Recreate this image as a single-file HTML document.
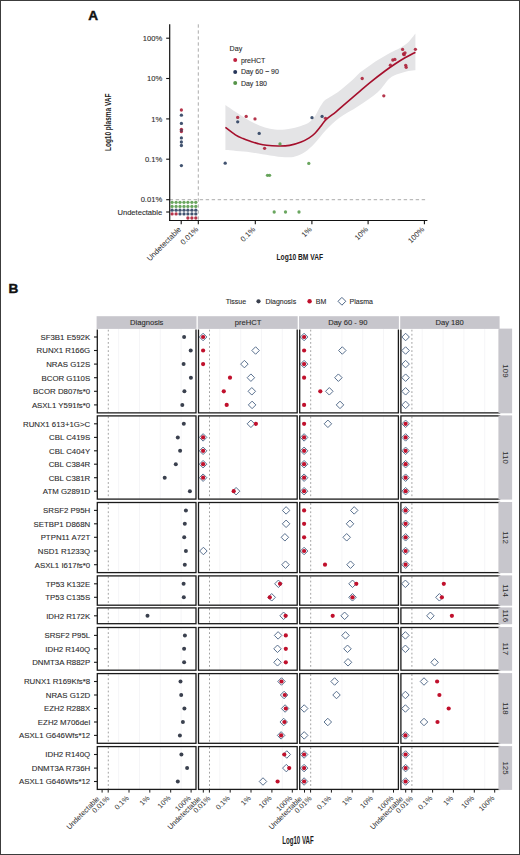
<!DOCTYPE html>
<html><head><meta charset="utf-8"><title>Figure</title>
<style>
html,body{margin:0;padding:0;background:#fff;}
body{width:520px;height:855px;overflow:hidden;}
svg{display:block;font-family:"Liberation Sans", sans-serif;}
</style></head><body>
<svg width="520" height="855" viewBox="0 0 520 855">
<rect x="0" y="0" width="520" height="855" fill="#fff"/>
<text x="88.3" y="20.2" font-size="13.6" font-weight="bold" fill="#111" stroke="#111" stroke-width="0.45">A</text>
<path d="M225.4 105C227 106.08 231.73 109.33 235 111.5C238.27 113.67 241.67 116 245 118C248.33 120 251.67 121.92 255 123.5C258.33 125.08 261.67 126.5 265 127.5C268.33 128.5 271.67 129.17 275 129.5C278.33 129.83 281.67 129.78 285 129.5C288.33 129.22 291.67 128.63 295 127.8C298.33 126.97 302.37 125.63 305 124.5C307.63 123.37 309.07 122.5 310.8 121C312.53 119.5 313.87 117.83 315.4 115.5C316.93 113.17 318.47 109.5 320 107C321.53 104.5 322.93 102.17 324.6 100.5C326.27 98.83 327.82 98.37 330 97C332.18 95.63 335.13 94.13 337.7 92.3C340.27 90.47 342.85 88.13 345.4 86C347.95 83.87 350.57 81.75 353 79.5C355.43 77.25 357.55 74.58 360 72.5C362.45 70.42 365.13 68.83 367.7 67C370.27 65.17 372.85 63.17 375.4 61.5C377.95 59.83 380.43 58.5 383 57C385.57 55.5 387.97 54 390.8 52.5C393.63 51 397.05 49.75 400 48C402.95 46.25 405.93 44.42 408.5 42C411.07 39.58 414.25 34.92 415.4 33.5L415.4 70.2C414.25 70.33 411.27 70.4 408.5 71C405.73 71.6 402.02 72.52 398.8 73.8C395.58 75.08 392.72 75.63 389.2 78.7C385.68 81.77 382.82 87.65 377.7 92.2C372.58 96.75 364.92 101.7 358.5 106C352.08 110.3 344.62 114 339.2 118C333.78 122 330.03 125.83 326 130C321.97 134.17 318.5 139.33 315 143C311.5 146.67 308.33 149.75 305 152C301.67 154.25 298.33 155.62 295 156.5C291.67 157.38 289.17 157.47 285 157.3C280.83 157.13 275.83 156.33 270 155.5C264.17 154.67 257.43 153.2 250 152.3C242.57 151.4 229.5 150.47 225.4 150.1Z" fill="#e4e4e6" stroke="none"/>
<line x1="198.3" y1="24.3" x2="198.3" y2="220.5" stroke="#a3a3a3" stroke-width="0.9" stroke-dasharray="3.4 2.6"/>
<line x1="169.7" y1="199.7" x2="427.2" y2="199.7" stroke="#a3a3a3" stroke-width="0.9" stroke-dasharray="3.4 2.6"/>
<path d="M225.4 127.4C227.07 128.65 232.47 133.03 235.4 134.9C238.33 136.77 240.43 137.52 243 138.6C245.57 139.68 248.3 140.57 250.8 141.4C253.3 142.23 255.38 142.95 258 143.6C260.62 144.25 263.17 144.9 266.5 145.3C269.83 145.7 274.15 145.98 278 146C281.85 146.02 285.75 146.07 289.6 145.4C293.45 144.73 297.83 143.25 301.1 142C304.37 140.75 306.88 139.37 309.2 137.9C311.52 136.43 313.07 135.13 315 133.2C316.93 131.27 318.97 128.57 320.8 126.3C322.63 124.03 323.47 122.02 326 119.6C328.53 117.18 332.67 114.53 336 111.8C339.33 109.07 342 106.63 346 103.2C350 99.77 356 94.63 360 91.2C364 87.77 365.83 85.97 370 82.6C374.17 79.23 380.83 74.1 385 71C389.17 67.9 391.67 66.2 395 64C398.33 61.8 401.6 59.77 405 57.8C408.4 55.83 413.67 53.13 415.4 52.2" fill="none" stroke="#a50f2c" stroke-width="1.6"/>
<line x1="169.7" y1="24.3" x2="169.7" y2="221.1" stroke="#111" stroke-width="1.2" />
<line x1="169.1" y1="220.5" x2="427.4" y2="220.5" stroke="#111" stroke-width="1.2" />
<line x1="166.2" y1="38.2" x2="169.7" y2="38.2" stroke="#111" stroke-width="1.1" />
<text x="162.2" y="40.9" font-size="7.6" text-anchor="end" fill="#2b2b2b" font-weight="normal" stroke="#2b2b2b" stroke-width="0.1" >100%</text>
<line x1="166.2" y1="78.5" x2="169.7" y2="78.5" stroke="#111" stroke-width="1.1" />
<text x="162.2" y="81.2" font-size="7.6" text-anchor="end" fill="#2b2b2b" font-weight="normal" stroke="#2b2b2b" stroke-width="0.1" >10%</text>
<line x1="166.2" y1="118.9" x2="169.7" y2="118.9" stroke="#111" stroke-width="1.1" />
<text x="162.2" y="121.6" font-size="7.6" text-anchor="end" fill="#2b2b2b" font-weight="normal" stroke="#2b2b2b" stroke-width="0.1" >1%</text>
<line x1="166.2" y1="159.2" x2="169.7" y2="159.2" stroke="#111" stroke-width="1.1" />
<text x="162.2" y="161.9" font-size="7.6" text-anchor="end" fill="#2b2b2b" font-weight="normal" stroke="#2b2b2b" stroke-width="0.1" >0.1%</text>
<line x1="166.2" y1="199.7" x2="169.7" y2="199.7" stroke="#111" stroke-width="1.1" />
<text x="162.2" y="202.4" font-size="7.6" text-anchor="end" fill="#2b2b2b" font-weight="normal" stroke="#2b2b2b" stroke-width="0.1" >0.01%</text>
<line x1="166.2" y1="212" x2="169.7" y2="212" stroke="#111" stroke-width="1.1" />
<text x="162.2" y="214.7" font-size="7.6" text-anchor="end" fill="#2b2b2b" font-weight="normal" stroke="#2b2b2b" stroke-width="0.1" >Undetectable</text>
<line x1="181.2" y1="220.5" x2="181.2" y2="224.3" stroke="#111" stroke-width="1.1" />
<text x="181.6" y="229.9" font-size="7.6" text-anchor="end" fill="#2b2b2b" transform="rotate(-45 181.6 229.9)">Undetectable</text>
<line x1="198.3" y1="220.5" x2="198.3" y2="224.3" stroke="#111" stroke-width="1.1" />
<text x="198.7" y="229.9" font-size="7.6" text-anchor="end" fill="#2b2b2b" transform="rotate(-45 198.7 229.9)">0.01%</text>
<line x1="255.3" y1="220.5" x2="255.3" y2="224.3" stroke="#111" stroke-width="1.1" />
<text x="255.7" y="229.9" font-size="7.6" text-anchor="end" fill="#2b2b2b" transform="rotate(-45 255.7 229.9)">0.1%</text>
<line x1="311.9" y1="220.5" x2="311.9" y2="224.3" stroke="#111" stroke-width="1.1" />
<text x="312.3" y="229.9" font-size="7.6" text-anchor="end" fill="#2b2b2b" transform="rotate(-45 312.3 229.9)">1%</text>
<line x1="368.1" y1="220.5" x2="368.1" y2="224.3" stroke="#111" stroke-width="1.1" />
<text x="368.5" y="229.9" font-size="7.6" text-anchor="end" fill="#2b2b2b" transform="rotate(-45 368.5 229.9)">10%</text>
<line x1="424.4" y1="220.5" x2="424.4" y2="224.3" stroke="#111" stroke-width="1.1" />
<text x="424.8" y="229.9" font-size="7.6" text-anchor="end" fill="#2b2b2b" transform="rotate(-45 424.8 229.9)">100%</text>
<text x="0" y="0" font-size="9.8" font-weight="bold" text-anchor="middle" fill="#1a1a1a" transform="translate(299.8 259.9) scale(0.68 1)">Log10 BM VAF</text>
<text x="0" y="0" font-size="9.8" font-weight="bold" text-anchor="middle" fill="#1a1a1a" transform="translate(111.2 122.3) rotate(-90) scale(0.66 1)">Log10 plasma VAF</text>
<circle cx="172.1" cy="202.3" r="1.65" fill="#5a9c4e" fill-opacity="0.9"/>
<circle cx="176.1" cy="202.3" r="1.65" fill="#5a9c4e" fill-opacity="0.9"/>
<circle cx="180" cy="202.3" r="1.65" fill="#5a9c4e" fill-opacity="0.9"/>
<circle cx="184" cy="202.3" r="1.65" fill="#5a9c4e" fill-opacity="0.9"/>
<circle cx="187.9" cy="202.3" r="1.65" fill="#5a9c4e" fill-opacity="0.9"/>
<circle cx="191.9" cy="202.3" r="1.65" fill="#5a9c4e" fill-opacity="0.9"/>
<circle cx="195.8" cy="202.3" r="1.65" fill="#5a9c4e" fill-opacity="0.9"/>
<circle cx="172.1" cy="206.4" r="1.65" fill="#5a9c4e" fill-opacity="0.9"/>
<circle cx="176.1" cy="206.4" r="1.65" fill="#5a9c4e" fill-opacity="0.9"/>
<circle cx="180" cy="206.4" r="1.65" fill="#5a9c4e" fill-opacity="0.9"/>
<circle cx="184" cy="206.4" r="1.65" fill="#5a9c4e" fill-opacity="0.9"/>
<circle cx="187.9" cy="206.4" r="1.65" fill="#5a9c4e" fill-opacity="0.9"/>
<circle cx="191.9" cy="206.4" r="1.65" fill="#5a9c4e" fill-opacity="0.9"/>
<circle cx="195.8" cy="206.4" r="1.65" fill="#5a9c4e" fill-opacity="0.9"/>
<circle cx="172.1" cy="210.2" r="1.65" fill="#2c4060" fill-opacity="0.9"/>
<circle cx="176.1" cy="210.2" r="1.65" fill="#2c4060" fill-opacity="0.9"/>
<circle cx="180" cy="210.2" r="1.65" fill="#2c4060" fill-opacity="0.9"/>
<circle cx="184" cy="210.2" r="1.65" fill="#2c4060" fill-opacity="0.9"/>
<circle cx="187.9" cy="210.2" r="1.65" fill="#2c4060" fill-opacity="0.9"/>
<circle cx="191.9" cy="210.2" r="1.65" fill="#2c4060" fill-opacity="0.9"/>
<circle cx="195.8" cy="210.2" r="1.65" fill="#2c4060" fill-opacity="0.9"/>
<circle cx="172.1" cy="213.9" r="1.65" fill="#ad2039" fill-opacity="0.9"/>
<circle cx="176.1" cy="213.9" r="1.65" fill="#ad2039" fill-opacity="0.9"/>
<circle cx="180" cy="213.9" r="1.65" fill="#2c4060" fill-opacity="0.9"/>
<circle cx="184" cy="213.9" r="1.65" fill="#2c4060" fill-opacity="0.9"/>
<circle cx="187.9" cy="213.9" r="1.65" fill="#2c4060" fill-opacity="0.9"/>
<circle cx="191.9" cy="213.9" r="1.65" fill="#2c4060" fill-opacity="0.9"/>
<circle cx="195.8" cy="213.9" r="1.65" fill="#2c4060" fill-opacity="0.9"/>
<circle cx="187.9" cy="218" r="1.65" fill="#ad2039" fill-opacity="0.9"/>
<circle cx="191.9" cy="218" r="1.65" fill="#ad2039" fill-opacity="0.9"/>
<circle cx="195.8" cy="218" r="1.65" fill="#ad2039" fill-opacity="0.9"/>
<circle cx="181.4" cy="110" r="1.65" fill="#ad2039" fill-opacity="0.9"/>
<circle cx="181.4" cy="115.2" r="1.65" fill="#2c4060" fill-opacity="0.9"/>
<circle cx="181.4" cy="123.4" r="1.65" fill="#2c4060" fill-opacity="0.9"/>
<circle cx="181.4" cy="129.3" r="1.65" fill="#ad2039" fill-opacity="0.9"/>
<circle cx="181.4" cy="131.5" r="1.65" fill="#ad2039" fill-opacity="0.9"/>
<circle cx="181.4" cy="137.9" r="1.65" fill="#2c4060" fill-opacity="0.9"/>
<circle cx="181.4" cy="142" r="1.65" fill="#2c4060" fill-opacity="0.9"/>
<circle cx="181.4" cy="145.5" r="1.65" fill="#2c4060" fill-opacity="0.9"/>
<circle cx="181.4" cy="165.6" r="1.65" fill="#2c4060" fill-opacity="0.9"/>
<circle cx="237.7" cy="117.4" r="1.65" fill="#ad2039" fill-opacity="0.9"/>
<circle cx="237.7" cy="121.8" r="1.65" fill="#2c4060" fill-opacity="0.9"/>
<circle cx="246.2" cy="116.4" r="1.65" fill="#ad2039" fill-opacity="0.9"/>
<circle cx="255" cy="118.9" r="1.65" fill="#ad2039" fill-opacity="0.9"/>
<circle cx="259.2" cy="133.4" r="1.65" fill="#2c4060" fill-opacity="0.9"/>
<circle cx="264.6" cy="148.3" r="1.65" fill="#ad2039" fill-opacity="0.9"/>
<circle cx="280" cy="143.9" r="1.65" fill="#5a9c4e" fill-opacity="0.9"/>
<circle cx="225.2" cy="163.2" r="1.65" fill="#2c4060" fill-opacity="0.9"/>
<circle cx="308.8" cy="163.4" r="1.65" fill="#5a9c4e" fill-opacity="0.9"/>
<circle cx="267.5" cy="175.3" r="1.65" fill="#5a9c4e" fill-opacity="0.9"/>
<circle cx="269.6" cy="175.3" r="1.65" fill="#5a9c4e" fill-opacity="0.9"/>
<circle cx="274.2" cy="212" r="1.65" fill="#5a9c4e" fill-opacity="0.9"/>
<circle cx="285.5" cy="212" r="1.65" fill="#5a9c4e" fill-opacity="0.9"/>
<circle cx="299" cy="212" r="1.65" fill="#5a9c4e" fill-opacity="0.9"/>
<circle cx="312" cy="117.7" r="1.65" fill="#2c4060" fill-opacity="0.9"/>
<circle cx="322.1" cy="116.4" r="1.65" fill="#2c4060" fill-opacity="0.9"/>
<circle cx="325.5" cy="118.3" r="1.65" fill="#ad2039" fill-opacity="0.9"/>
<circle cx="362.2" cy="78.5" r="1.65" fill="#ad2039" fill-opacity="0.9"/>
<circle cx="383.8" cy="95.8" r="1.65" fill="#ad2039" fill-opacity="0.9"/>
<circle cx="390.4" cy="65.2" r="1.65" fill="#ad2039" fill-opacity="0.9"/>
<circle cx="392.8" cy="60" r="1.65" fill="#ad2039" fill-opacity="0.9"/>
<circle cx="394.9" cy="59.4" r="1.65" fill="#ad2039" fill-opacity="0.9"/>
<circle cx="402.6" cy="49.4" r="1.65" fill="#ad2039" fill-opacity="0.9"/>
<circle cx="403.5" cy="54" r="1.65" fill="#ad2039" fill-opacity="0.9"/>
<circle cx="405" cy="52.8" r="1.65" fill="#ad2039" fill-opacity="0.9"/>
<circle cx="404.2" cy="54.7" r="1.65" fill="#ad2039" fill-opacity="0.9"/>
<circle cx="405.7" cy="65.3" r="1.65" fill="#ad2039" fill-opacity="0.9"/>
<circle cx="406.2" cy="67.3" r="1.65" fill="#ad2039" fill-opacity="0.9"/>
<circle cx="415.4" cy="49.3" r="1.65" fill="#ad2039" fill-opacity="0.9"/>
<circle cx="181.4" cy="130.4" r="1.65" fill="#2c4060" fill-opacity="0.5"/>
<text x="229.6" y="51" font-size="7.1" text-anchor="start" fill="#2b2b2b" font-weight="normal" stroke="#2b2b2b" stroke-width="0.1" >Day</text>
<circle cx="235.2" cy="60" r="2.0" fill="#bf213f" />
<text x="240.9" y="62.5" font-size="7.0" text-anchor="start" fill="#2b2b2b" font-weight="normal" stroke="#2b2b2b" stroke-width="0.1" >preHCT</text>
<circle cx="235.2" cy="71.9" r="2.0" fill="#26365a" />
<text x="240.9" y="74.4" font-size="7.0" text-anchor="start" fill="#2b2b2b" font-weight="normal" stroke="#2b2b2b" stroke-width="0.1" >Day 60 − 90</text>
<circle cx="235.2" cy="83.1" r="2.0" fill="#559449" />
<text x="240.9" y="85.6" font-size="7.0" text-anchor="start" fill="#2b2b2b" font-weight="normal" stroke="#2b2b2b" stroke-width="0.1" >Day 180</text>
<text x="8.6" y="293.3" font-size="13.6" font-weight="bold" fill="#111" stroke="#111" stroke-width="0.45">B</text>
<text x="225.8" y="303.7" font-size="7.0" text-anchor="start" fill="#2b2b2b" font-weight="normal" stroke="#2b2b2b" stroke-width="0.1" >Tissue</text>
<circle cx="258.5" cy="301.3" r="2.1" fill="#3a404e" />
<text x="265.4" y="303.8" font-size="7.0" text-anchor="start" fill="#2b2b2b" font-weight="normal" stroke="#2b2b2b" stroke-width="0.1" >Diagnosis</text>
<circle cx="309.6" cy="301.3" r="2.2" fill="#c0102c" />
<text x="315.8" y="303.8" font-size="7.0" text-anchor="start" fill="#2b2b2b" font-weight="normal" stroke="#2b2b2b" stroke-width="0.1" >BM</text>
<path d="M341.9 297.4L345.8 301.3L341.9 305.2L338 301.3Z" fill="none" stroke="#506888" stroke-width="1.0"/>
<text x="349.6" y="303.8" font-size="7.0" text-anchor="start" fill="#2b2b2b" font-weight="normal" stroke="#2b2b2b" stroke-width="0.1" >Plasma</text>
<rect x="96.6" y="316.2" width="99.9" height="12.7" fill="#c7c6cc"/>
<rect x="197.8" y="316.2" width="99.9" height="12.7" fill="#c7c6cc"/>
<rect x="299" y="316.2" width="99.9" height="12.7" fill="#c7c6cc"/>
<rect x="400.2" y="316.2" width="99.4" height="12.7" fill="#c7c6cc"/>
<text x="146.75" y="325.3" font-size="7.6" text-anchor="middle" fill="#2b2b2b" font-weight="normal" stroke="#2b2b2b" stroke-width="0.1" >Diagnosis</text>
<text x="248.1" y="325.3" font-size="7.6" text-anchor="middle" fill="#2b2b2b" font-weight="normal" stroke="#2b2b2b" stroke-width="0.1" >preHCT</text>
<text x="347.8" y="325.3" font-size="7.6" text-anchor="middle" fill="#2b2b2b" font-weight="normal" stroke="#2b2b2b" stroke-width="0.1" >Day 60 - 90</text>
<text x="449.6" y="325.3" font-size="7.6" text-anchor="middle" fill="#2b2b2b" font-weight="normal" stroke="#2b2b2b" stroke-width="0.1" >Day 180</text>
<rect x="97.3" y="329.1" width="98.7" height="83.7" fill="#fff"/>
<line x1="118.6" y1="329.1" x2="118.6" y2="412.8" stroke="#f1f1f3" stroke-width="0.7" />
<line x1="139.5" y1="329.1" x2="139.5" y2="412.8" stroke="#f1f1f3" stroke-width="0.7" />
<line x1="160.3" y1="329.1" x2="160.3" y2="412.8" stroke="#f1f1f3" stroke-width="0.7" />
<line x1="181.1" y1="329.1" x2="181.1" y2="412.8" stroke="#f1f1f3" stroke-width="0.7" />
<line x1="108.3" y1="329.7" x2="108.3" y2="412.2" stroke="#8a8a8a" stroke-width="0.8" stroke-dasharray="1.8 2.3"/>
<rect x="198.5" y="329.1" width="98.7" height="83.7" fill="#fff"/>
<line x1="219.8" y1="329.1" x2="219.8" y2="412.8" stroke="#f1f1f3" stroke-width="0.7" />
<line x1="240.7" y1="329.1" x2="240.7" y2="412.8" stroke="#f1f1f3" stroke-width="0.7" />
<line x1="261.5" y1="329.1" x2="261.5" y2="412.8" stroke="#f1f1f3" stroke-width="0.7" />
<line x1="282.3" y1="329.1" x2="282.3" y2="412.8" stroke="#f1f1f3" stroke-width="0.7" />
<line x1="209.5" y1="329.7" x2="209.5" y2="412.2" stroke="#8a8a8a" stroke-width="0.8" stroke-dasharray="1.8 2.3"/>
<rect x="299.7" y="329.1" width="98.7" height="83.7" fill="#fff"/>
<line x1="321" y1="329.1" x2="321" y2="412.8" stroke="#f1f1f3" stroke-width="0.7" />
<line x1="341.9" y1="329.1" x2="341.9" y2="412.8" stroke="#f1f1f3" stroke-width="0.7" />
<line x1="362.7" y1="329.1" x2="362.7" y2="412.8" stroke="#f1f1f3" stroke-width="0.7" />
<line x1="383.5" y1="329.1" x2="383.5" y2="412.8" stroke="#f1f1f3" stroke-width="0.7" />
<line x1="310.7" y1="329.7" x2="310.7" y2="412.2" stroke="#8a8a8a" stroke-width="0.8" stroke-dasharray="1.8 2.3"/>
<rect x="400.9" y="329.1" width="98.7" height="83.7" fill="#fff"/>
<line x1="422.2" y1="329.1" x2="422.2" y2="412.8" stroke="#f1f1f3" stroke-width="0.7" />
<line x1="443.1" y1="329.1" x2="443.1" y2="412.8" stroke="#f1f1f3" stroke-width="0.7" />
<line x1="463.9" y1="329.1" x2="463.9" y2="412.8" stroke="#f1f1f3" stroke-width="0.7" />
<line x1="484.7" y1="329.1" x2="484.7" y2="412.8" stroke="#f1f1f3" stroke-width="0.7" />
<line x1="411.9" y1="329.7" x2="411.9" y2="412.2" stroke="#8a8a8a" stroke-width="0.8" stroke-dasharray="1.8 2.3"/>
<circle cx="184.1" cy="337" r="2.0" fill="#3a404e" />
<circle cx="190.7" cy="350.5" r="2.0" fill="#3a404e" />
<circle cx="183.6" cy="364.1" r="2.0" fill="#3a404e" />
<circle cx="190.9" cy="377.7" r="2.0" fill="#3a404e" />
<circle cx="184.4" cy="391.3" r="2.0" fill="#3a404e" />
<circle cx="182.3" cy="404.9" r="2.0" fill="#3a404e" />
<path d="M203.1 333.25L206.85 337L203.1 340.75L199.35 337Z" fill="none" stroke="#506888" stroke-width="0.95"/>
<path d="M255.6 346.75L259.35 350.5L255.6 354.25L251.85 350.5Z" fill="none" stroke="#506888" stroke-width="0.95"/>
<path d="M244.4 360.35L248.15 364.1L244.4 367.85L240.65 364.1Z" fill="none" stroke="#506888" stroke-width="0.95"/>
<path d="M250.9 373.95L254.65 377.7L250.9 381.45L247.15 377.7Z" fill="none" stroke="#506888" stroke-width="0.95"/>
<path d="M251.8 387.55L255.55 391.3L251.8 395.05L248.05 391.3Z" fill="none" stroke="#506888" stroke-width="0.95"/>
<path d="M252.1 401.15L255.85 404.9L252.1 408.65L248.35 404.9Z" fill="none" stroke="#506888" stroke-width="0.95"/>
<circle cx="203.1" cy="337" r="2.1" fill="#c0102c" />
<circle cx="203.1" cy="350.5" r="2.1" fill="#c0102c" />
<circle cx="203.1" cy="364.1" r="2.1" fill="#c0102c" />
<circle cx="230" cy="377.7" r="2.1" fill="#c0102c" />
<circle cx="223.8" cy="391.3" r="2.1" fill="#c0102c" />
<circle cx="226.7" cy="404.9" r="2.1" fill="#c0102c" />
<path d="M304.1 333.25L307.85 337L304.1 340.75L300.35 337Z" fill="none" stroke="#506888" stroke-width="0.95"/>
<path d="M342.3 346.75L346.05 350.5L342.3 354.25L338.55 350.5Z" fill="none" stroke="#506888" stroke-width="0.95"/>
<path d="M304.1 360.35L307.85 364.1L304.1 367.85L300.35 364.1Z" fill="none" stroke="#506888" stroke-width="0.95"/>
<path d="M338.4 373.95L342.15 377.7L338.4 381.45L334.65 377.7Z" fill="none" stroke="#506888" stroke-width="0.95"/>
<path d="M329.3 387.55L333.05 391.3L329.3 395.05L325.55 391.3Z" fill="none" stroke="#506888" stroke-width="0.95"/>
<path d="M340 401.15L343.75 404.9L340 408.65L336.25 404.9Z" fill="none" stroke="#506888" stroke-width="0.95"/>
<circle cx="304.1" cy="337" r="2.1" fill="#c0102c" />
<circle cx="304.1" cy="350.5" r="2.1" fill="#c0102c" />
<circle cx="304.1" cy="364.1" r="2.1" fill="#c0102c" />
<circle cx="304.1" cy="377.7" r="2.1" fill="#c0102c" />
<circle cx="320.3" cy="391.3" r="2.1" fill="#c0102c" />
<circle cx="304.1" cy="404.9" r="2.1" fill="#c0102c" />
<path d="M405.6 333.25L409.35 337L405.6 340.75L401.85 337Z" fill="none" stroke="#506888" stroke-width="0.95"/>
<path d="M405.6 346.75L409.35 350.5L405.6 354.25L401.85 350.5Z" fill="none" stroke="#506888" stroke-width="0.95"/>
<path d="M405.6 360.35L409.35 364.1L405.6 367.85L401.85 364.1Z" fill="none" stroke="#506888" stroke-width="0.95"/>
<path d="M405.6 373.95L409.35 377.7L405.6 381.45L401.85 377.7Z" fill="none" stroke="#506888" stroke-width="0.95"/>
<path d="M405.6 387.55L409.35 391.3L405.6 395.05L401.85 391.3Z" fill="none" stroke="#506888" stroke-width="0.95"/>
<path d="M405.6 401.15L409.35 404.9L405.6 408.65L401.85 404.9Z" fill="none" stroke="#506888" stroke-width="0.95"/>
<path d="M97.3 329.6V412.8H196V329.6" fill="none" stroke="#1a1a1a" stroke-width="1.3"/>
<path d="M198.5 329.6V412.8H297.2V329.6" fill="none" stroke="#1a1a1a" stroke-width="1.3"/>
<path d="M299.7 329.6V412.8H398.4V329.6" fill="none" stroke="#1a1a1a" stroke-width="1.3"/>
<path d="M400.9 329.6V412.8H499.6V329.6" fill="none" stroke="#1a1a1a" stroke-width="1.3"/>
<line x1="94" y1="337" x2="97.3" y2="337" stroke="#1a1a1a" stroke-width="1.1" />
<text x="90.2" y="339.8" font-size="7.85" text-anchor="end" fill="#2b2b2b" font-weight="normal" stroke="#2b2b2b" stroke-width="0.1" >SF3B1 E592K</text>
<line x1="94" y1="350.5" x2="97.3" y2="350.5" stroke="#1a1a1a" stroke-width="1.1" />
<text x="90.2" y="353.3" font-size="7.85" text-anchor="end" fill="#2b2b2b" font-weight="normal" stroke="#2b2b2b" stroke-width="0.1" >RUNX1 R166G</text>
<line x1="94" y1="364.1" x2="97.3" y2="364.1" stroke="#1a1a1a" stroke-width="1.1" />
<text x="90.2" y="366.9" font-size="7.85" text-anchor="end" fill="#2b2b2b" font-weight="normal" stroke="#2b2b2b" stroke-width="0.1" >NRAS G12S</text>
<line x1="94" y1="377.7" x2="97.3" y2="377.7" stroke="#1a1a1a" stroke-width="1.1" />
<text x="90.2" y="380.5" font-size="7.85" text-anchor="end" fill="#2b2b2b" font-weight="normal" stroke="#2b2b2b" stroke-width="0.1" >BCOR G110S</text>
<line x1="94" y1="391.3" x2="97.3" y2="391.3" stroke="#1a1a1a" stroke-width="1.1" />
<text x="90.2" y="394.1" font-size="7.85" text-anchor="end" fill="#2b2b2b" font-weight="normal" stroke="#2b2b2b" stroke-width="0.1" >BCOR D807fs*0</text>
<line x1="94" y1="404.9" x2="97.3" y2="404.9" stroke="#1a1a1a" stroke-width="1.1" />
<text x="90.2" y="407.7" font-size="7.85" text-anchor="end" fill="#2b2b2b" font-weight="normal" stroke="#2b2b2b" stroke-width="0.1" >ASXL1 Y591fs*0</text>
<rect x="498.5" y="328.6" width="13.6" height="84.7" fill="#c7c6cc"/>
<text x="0" y="0" font-size="7.9" text-anchor="middle" fill="#2b2b2b" transform="translate(502.7 370.95) rotate(90)">109</text>
<rect x="97.3" y="415.9" width="98.7" height="83.2" fill="#fff"/>
<line x1="118.6" y1="415.9" x2="118.6" y2="499.1" stroke="#f1f1f3" stroke-width="0.7" />
<line x1="139.5" y1="415.9" x2="139.5" y2="499.1" stroke="#f1f1f3" stroke-width="0.7" />
<line x1="160.3" y1="415.9" x2="160.3" y2="499.1" stroke="#f1f1f3" stroke-width="0.7" />
<line x1="181.1" y1="415.9" x2="181.1" y2="499.1" stroke="#f1f1f3" stroke-width="0.7" />
<line x1="108.3" y1="416.5" x2="108.3" y2="498.5" stroke="#8a8a8a" stroke-width="0.8" stroke-dasharray="1.8 2.3"/>
<rect x="198.5" y="415.9" width="98.7" height="83.2" fill="#fff"/>
<line x1="219.8" y1="415.9" x2="219.8" y2="499.1" stroke="#f1f1f3" stroke-width="0.7" />
<line x1="240.7" y1="415.9" x2="240.7" y2="499.1" stroke="#f1f1f3" stroke-width="0.7" />
<line x1="261.5" y1="415.9" x2="261.5" y2="499.1" stroke="#f1f1f3" stroke-width="0.7" />
<line x1="282.3" y1="415.9" x2="282.3" y2="499.1" stroke="#f1f1f3" stroke-width="0.7" />
<line x1="209.5" y1="416.5" x2="209.5" y2="498.5" stroke="#8a8a8a" stroke-width="0.8" stroke-dasharray="1.8 2.3"/>
<rect x="299.7" y="415.9" width="98.7" height="83.2" fill="#fff"/>
<line x1="321" y1="415.9" x2="321" y2="499.1" stroke="#f1f1f3" stroke-width="0.7" />
<line x1="341.9" y1="415.9" x2="341.9" y2="499.1" stroke="#f1f1f3" stroke-width="0.7" />
<line x1="362.7" y1="415.9" x2="362.7" y2="499.1" stroke="#f1f1f3" stroke-width="0.7" />
<line x1="383.5" y1="415.9" x2="383.5" y2="499.1" stroke="#f1f1f3" stroke-width="0.7" />
<line x1="310.7" y1="416.5" x2="310.7" y2="498.5" stroke="#8a8a8a" stroke-width="0.8" stroke-dasharray="1.8 2.3"/>
<rect x="400.9" y="415.9" width="98.7" height="83.2" fill="#fff"/>
<line x1="422.2" y1="415.9" x2="422.2" y2="499.1" stroke="#f1f1f3" stroke-width="0.7" />
<line x1="443.1" y1="415.9" x2="443.1" y2="499.1" stroke="#f1f1f3" stroke-width="0.7" />
<line x1="463.9" y1="415.9" x2="463.9" y2="499.1" stroke="#f1f1f3" stroke-width="0.7" />
<line x1="484.7" y1="415.9" x2="484.7" y2="499.1" stroke="#f1f1f3" stroke-width="0.7" />
<line x1="411.9" y1="416.5" x2="411.9" y2="498.5" stroke="#8a8a8a" stroke-width="0.8" stroke-dasharray="1.8 2.3"/>
<circle cx="183.8" cy="423.8" r="2.0" fill="#3a404e" />
<circle cx="177.8" cy="437.4" r="2.0" fill="#3a404e" />
<circle cx="180.1" cy="450.8" r="2.0" fill="#3a404e" />
<circle cx="175.8" cy="464.2" r="2.0" fill="#3a404e" />
<circle cx="164.7" cy="477.7" r="2.0" fill="#3a404e" />
<circle cx="189.9" cy="491.2" r="2.0" fill="#3a404e" />
<path d="M250.9 420.05L254.65 423.8L250.9 427.55L247.15 423.8Z" fill="none" stroke="#506888" stroke-width="0.95"/>
<path d="M203.1 433.65L206.85 437.4L203.1 441.15L199.35 437.4Z" fill="none" stroke="#506888" stroke-width="0.95"/>
<path d="M203.1 447.05L206.85 450.8L203.1 454.55L199.35 450.8Z" fill="none" stroke="#506888" stroke-width="0.95"/>
<path d="M203.1 460.45L206.85 464.2L203.1 467.95L199.35 464.2Z" fill="none" stroke="#506888" stroke-width="0.95"/>
<path d="M203.1 473.95L206.85 477.7L203.1 481.45L199.35 477.7Z" fill="none" stroke="#506888" stroke-width="0.95"/>
<path d="M236.1 487.45L239.85 491.2L236.1 494.95L232.35 491.2Z" fill="none" stroke="#506888" stroke-width="0.95"/>
<circle cx="255.9" cy="423.8" r="2.1" fill="#c0102c" />
<circle cx="203.1" cy="437.4" r="2.1" fill="#c0102c" />
<circle cx="203.1" cy="450.8" r="2.1" fill="#c0102c" />
<circle cx="203.1" cy="464.2" r="2.1" fill="#c0102c" />
<circle cx="203.1" cy="477.7" r="2.1" fill="#c0102c" />
<circle cx="233.7" cy="491.2" r="2.1" fill="#c0102c" />
<path d="M327.9 420.05L331.65 423.8L327.9 427.55L324.15 423.8Z" fill="none" stroke="#506888" stroke-width="0.95"/>
<path d="M304.1 433.65L307.85 437.4L304.1 441.15L300.35 437.4Z" fill="none" stroke="#506888" stroke-width="0.95"/>
<path d="M304.1 447.05L307.85 450.8L304.1 454.55L300.35 450.8Z" fill="none" stroke="#506888" stroke-width="0.95"/>
<path d="M304.1 460.45L307.85 464.2L304.1 467.95L300.35 464.2Z" fill="none" stroke="#506888" stroke-width="0.95"/>
<path d="M304.1 473.95L307.85 477.7L304.1 481.45L300.35 477.7Z" fill="none" stroke="#506888" stroke-width="0.95"/>
<path d="M304.1 487.45L307.85 491.2L304.1 494.95L300.35 491.2Z" fill="none" stroke="#506888" stroke-width="0.95"/>
<circle cx="304.1" cy="423.8" r="2.1" fill="#c0102c" />
<circle cx="304.1" cy="437.4" r="2.1" fill="#c0102c" />
<circle cx="304.1" cy="450.8" r="2.1" fill="#c0102c" />
<circle cx="304.1" cy="464.2" r="2.1" fill="#c0102c" />
<circle cx="304.1" cy="477.7" r="2.1" fill="#c0102c" />
<circle cx="304.1" cy="491.2" r="2.1" fill="#c0102c" />
<path d="M405.6 420.05L409.35 423.8L405.6 427.55L401.85 423.8Z" fill="none" stroke="#506888" stroke-width="0.95"/>
<path d="M405.6 433.65L409.35 437.4L405.6 441.15L401.85 437.4Z" fill="none" stroke="#506888" stroke-width="0.95"/>
<path d="M405.6 447.05L409.35 450.8L405.6 454.55L401.85 450.8Z" fill="none" stroke="#506888" stroke-width="0.95"/>
<path d="M405.6 460.45L409.35 464.2L405.6 467.95L401.85 464.2Z" fill="none" stroke="#506888" stroke-width="0.95"/>
<path d="M405.6 473.95L409.35 477.7L405.6 481.45L401.85 477.7Z" fill="none" stroke="#506888" stroke-width="0.95"/>
<path d="M405.6 487.45L409.35 491.2L405.6 494.95L401.85 491.2Z" fill="none" stroke="#506888" stroke-width="0.95"/>
<circle cx="405.6" cy="423.8" r="2.1" fill="#c0102c" />
<circle cx="405.6" cy="437.4" r="2.1" fill="#c0102c" />
<circle cx="405.6" cy="450.8" r="2.1" fill="#c0102c" />
<circle cx="405.6" cy="464.2" r="2.1" fill="#c0102c" />
<circle cx="405.6" cy="477.7" r="2.1" fill="#c0102c" />
<circle cx="405.6" cy="491.2" r="2.1" fill="#c0102c" />
<rect x="97.3" y="415.9" width="98.7" height="83.2" fill="none" stroke="#1a1a1a" stroke-width="1.3"/>
<rect x="198.5" y="415.9" width="98.7" height="83.2" fill="none" stroke="#1a1a1a" stroke-width="1.3"/>
<rect x="299.7" y="415.9" width="98.7" height="83.2" fill="none" stroke="#1a1a1a" stroke-width="1.3"/>
<rect x="400.9" y="415.9" width="98.7" height="83.2" fill="none" stroke="#1a1a1a" stroke-width="1.3"/>
<line x1="94" y1="423.8" x2="97.3" y2="423.8" stroke="#1a1a1a" stroke-width="1.1" />
<text x="90.2" y="426.6" font-size="7.85" text-anchor="end" fill="#2b2b2b" font-weight="normal" stroke="#2b2b2b" stroke-width="0.1" >RUNX1 613+1G&gt;C</text>
<line x1="94" y1="437.4" x2="97.3" y2="437.4" stroke="#1a1a1a" stroke-width="1.1" />
<text x="90.2" y="440.2" font-size="7.85" text-anchor="end" fill="#2b2b2b" font-weight="normal" stroke="#2b2b2b" stroke-width="0.1" >CBL C419S</text>
<line x1="94" y1="450.8" x2="97.3" y2="450.8" stroke="#1a1a1a" stroke-width="1.1" />
<text x="90.2" y="453.6" font-size="7.85" text-anchor="end" fill="#2b2b2b" font-weight="normal" stroke="#2b2b2b" stroke-width="0.1" >CBL C404Y</text>
<line x1="94" y1="464.2" x2="97.3" y2="464.2" stroke="#1a1a1a" stroke-width="1.1" />
<text x="90.2" y="467" font-size="7.85" text-anchor="end" fill="#2b2b2b" font-weight="normal" stroke="#2b2b2b" stroke-width="0.1" >CBL C384R</text>
<line x1="94" y1="477.7" x2="97.3" y2="477.7" stroke="#1a1a1a" stroke-width="1.1" />
<text x="90.2" y="480.5" font-size="7.85" text-anchor="end" fill="#2b2b2b" font-weight="normal" stroke="#2b2b2b" stroke-width="0.1" >CBL C381R</text>
<line x1="94" y1="491.2" x2="97.3" y2="491.2" stroke="#1a1a1a" stroke-width="1.1" />
<text x="90.2" y="494" font-size="7.85" text-anchor="end" fill="#2b2b2b" font-weight="normal" stroke="#2b2b2b" stroke-width="0.1" >ATM G2891D</text>
<rect x="498.5" y="415.4" width="13.6" height="84.2" fill="#c7c6cc"/>
<text x="0" y="0" font-size="7.9" text-anchor="middle" fill="#2b2b2b" transform="translate(502.7 457.5) rotate(90)">110</text>
<rect x="97.3" y="502.5" width="98.7" height="70.1" fill="#fff"/>
<line x1="118.6" y1="502.5" x2="118.6" y2="572.6" stroke="#f1f1f3" stroke-width="0.7" />
<line x1="139.5" y1="502.5" x2="139.5" y2="572.6" stroke="#f1f1f3" stroke-width="0.7" />
<line x1="160.3" y1="502.5" x2="160.3" y2="572.6" stroke="#f1f1f3" stroke-width="0.7" />
<line x1="181.1" y1="502.5" x2="181.1" y2="572.6" stroke="#f1f1f3" stroke-width="0.7" />
<line x1="108.3" y1="503.1" x2="108.3" y2="572" stroke="#8a8a8a" stroke-width="0.8" stroke-dasharray="1.8 2.3"/>
<rect x="198.5" y="502.5" width="98.7" height="70.1" fill="#fff"/>
<line x1="219.8" y1="502.5" x2="219.8" y2="572.6" stroke="#f1f1f3" stroke-width="0.7" />
<line x1="240.7" y1="502.5" x2="240.7" y2="572.6" stroke="#f1f1f3" stroke-width="0.7" />
<line x1="261.5" y1="502.5" x2="261.5" y2="572.6" stroke="#f1f1f3" stroke-width="0.7" />
<line x1="282.3" y1="502.5" x2="282.3" y2="572.6" stroke="#f1f1f3" stroke-width="0.7" />
<line x1="209.5" y1="503.1" x2="209.5" y2="572" stroke="#8a8a8a" stroke-width="0.8" stroke-dasharray="1.8 2.3"/>
<rect x="299.7" y="502.5" width="98.7" height="70.1" fill="#fff"/>
<line x1="321" y1="502.5" x2="321" y2="572.6" stroke="#f1f1f3" stroke-width="0.7" />
<line x1="341.9" y1="502.5" x2="341.9" y2="572.6" stroke="#f1f1f3" stroke-width="0.7" />
<line x1="362.7" y1="502.5" x2="362.7" y2="572.6" stroke="#f1f1f3" stroke-width="0.7" />
<line x1="383.5" y1="502.5" x2="383.5" y2="572.6" stroke="#f1f1f3" stroke-width="0.7" />
<line x1="310.7" y1="503.1" x2="310.7" y2="572" stroke="#8a8a8a" stroke-width="0.8" stroke-dasharray="1.8 2.3"/>
<rect x="400.9" y="502.5" width="98.7" height="70.1" fill="#fff"/>
<line x1="422.2" y1="502.5" x2="422.2" y2="572.6" stroke="#f1f1f3" stroke-width="0.7" />
<line x1="443.1" y1="502.5" x2="443.1" y2="572.6" stroke="#f1f1f3" stroke-width="0.7" />
<line x1="463.9" y1="502.5" x2="463.9" y2="572.6" stroke="#f1f1f3" stroke-width="0.7" />
<line x1="484.7" y1="502.5" x2="484.7" y2="572.6" stroke="#f1f1f3" stroke-width="0.7" />
<line x1="411.9" y1="503.1" x2="411.9" y2="572" stroke="#8a8a8a" stroke-width="0.8" stroke-dasharray="1.8 2.3"/>
<circle cx="185.9" cy="510.4" r="2.0" fill="#3a404e" />
<circle cx="184.8" cy="523.8" r="2.0" fill="#3a404e" />
<circle cx="184.2" cy="537.3" r="2.0" fill="#3a404e" />
<circle cx="185.9" cy="551" r="2.0" fill="#3a404e" />
<circle cx="184.8" cy="564.7" r="2.0" fill="#3a404e" />
<path d="M286.1 506.65L289.85 510.4L286.1 514.15L282.35 510.4Z" fill="none" stroke="#506888" stroke-width="0.95"/>
<path d="M286.1 520.05L289.85 523.8L286.1 527.55L282.35 523.8Z" fill="none" stroke="#506888" stroke-width="0.95"/>
<path d="M284.9 533.55L288.65 537.3L284.9 541.05L281.15 537.3Z" fill="none" stroke="#506888" stroke-width="0.95"/>
<path d="M203.4 547.25L207.15 551L203.4 554.75L199.65 551Z" fill="none" stroke="#506888" stroke-width="0.95"/>
<path d="M285.5 560.95L289.25 564.7L285.5 568.45L281.75 564.7Z" fill="none" stroke="#506888" stroke-width="0.95"/>
<path d="M354.2 506.65L357.95 510.4L354.2 514.15L350.45 510.4Z" fill="none" stroke="#506888" stroke-width="0.95"/>
<path d="M350 520.05L353.75 523.8L350 527.55L346.25 523.8Z" fill="none" stroke="#506888" stroke-width="0.95"/>
<path d="M346.7 533.55L350.45 537.3L346.7 541.05L342.95 537.3Z" fill="none" stroke="#506888" stroke-width="0.95"/>
<path d="M304.1 547.25L307.85 551L304.1 554.75L300.35 551Z" fill="none" stroke="#506888" stroke-width="0.95"/>
<path d="M350.5 560.95L354.25 564.7L350.5 568.45L346.75 564.7Z" fill="none" stroke="#506888" stroke-width="0.95"/>
<circle cx="304.1" cy="510.4" r="2.1" fill="#c0102c" />
<circle cx="304.1" cy="523.8" r="2.1" fill="#c0102c" />
<circle cx="304.1" cy="537.3" r="2.1" fill="#c0102c" />
<circle cx="304.1" cy="551" r="2.1" fill="#c0102c" />
<circle cx="325" cy="564.7" r="2.1" fill="#c0102c" />
<path d="M405.6 506.65L409.35 510.4L405.6 514.15L401.85 510.4Z" fill="none" stroke="#506888" stroke-width="0.95"/>
<path d="M405.6 520.05L409.35 523.8L405.6 527.55L401.85 523.8Z" fill="none" stroke="#506888" stroke-width="0.95"/>
<path d="M405.6 533.55L409.35 537.3L405.6 541.05L401.85 537.3Z" fill="none" stroke="#506888" stroke-width="0.95"/>
<path d="M405.6 547.25L409.35 551L405.6 554.75L401.85 551Z" fill="none" stroke="#506888" stroke-width="0.95"/>
<path d="M405.6 560.95L409.35 564.7L405.6 568.45L401.85 564.7Z" fill="none" stroke="#506888" stroke-width="0.95"/>
<circle cx="405.6" cy="510.4" r="2.1" fill="#c0102c" />
<circle cx="405.6" cy="523.8" r="2.1" fill="#c0102c" />
<circle cx="405.6" cy="537.3" r="2.1" fill="#c0102c" />
<circle cx="405.6" cy="551" r="2.1" fill="#c0102c" />
<circle cx="405.6" cy="564.7" r="2.1" fill="#c0102c" />
<rect x="97.3" y="502.5" width="98.7" height="70.1" fill="none" stroke="#1a1a1a" stroke-width="1.3"/>
<rect x="198.5" y="502.5" width="98.7" height="70.1" fill="none" stroke="#1a1a1a" stroke-width="1.3"/>
<rect x="299.7" y="502.5" width="98.7" height="70.1" fill="none" stroke="#1a1a1a" stroke-width="1.3"/>
<rect x="400.9" y="502.5" width="98.7" height="70.1" fill="none" stroke="#1a1a1a" stroke-width="1.3"/>
<line x1="94" y1="510.4" x2="97.3" y2="510.4" stroke="#1a1a1a" stroke-width="1.1" />
<text x="90.2" y="513.2" font-size="7.85" text-anchor="end" fill="#2b2b2b" font-weight="normal" stroke="#2b2b2b" stroke-width="0.1" >SRSF2 P95H</text>
<line x1="94" y1="523.8" x2="97.3" y2="523.8" stroke="#1a1a1a" stroke-width="1.1" />
<text x="90.2" y="526.6" font-size="7.85" text-anchor="end" fill="#2b2b2b" font-weight="normal" stroke="#2b2b2b" stroke-width="0.1" >SETBP1 D868N</text>
<line x1="94" y1="537.3" x2="97.3" y2="537.3" stroke="#1a1a1a" stroke-width="1.1" />
<text x="90.2" y="540.1" font-size="7.85" text-anchor="end" fill="#2b2b2b" font-weight="normal" stroke="#2b2b2b" stroke-width="0.1" >PTPN11 A72T</text>
<line x1="94" y1="551" x2="97.3" y2="551" stroke="#1a1a1a" stroke-width="1.1" />
<text x="90.2" y="553.8" font-size="7.85" text-anchor="end" fill="#2b2b2b" font-weight="normal" stroke="#2b2b2b" stroke-width="0.1" >NSD1 R1233Q</text>
<line x1="94" y1="564.7" x2="97.3" y2="564.7" stroke="#1a1a1a" stroke-width="1.1" />
<text x="90.2" y="567.5" font-size="7.85" text-anchor="end" fill="#2b2b2b" font-weight="normal" stroke="#2b2b2b" stroke-width="0.1" >ASXL1 I617fs*0</text>
<rect x="498.5" y="502" width="13.6" height="71.1" fill="#c7c6cc"/>
<text x="0" y="0" font-size="7.9" text-anchor="middle" fill="#2b2b2b" transform="translate(502.7 537.55) rotate(90)">112</text>
<rect x="97.3" y="575.9" width="98.7" height="29.3" fill="#fff"/>
<line x1="118.6" y1="575.9" x2="118.6" y2="605.2" stroke="#f1f1f3" stroke-width="0.7" />
<line x1="139.5" y1="575.9" x2="139.5" y2="605.2" stroke="#f1f1f3" stroke-width="0.7" />
<line x1="160.3" y1="575.9" x2="160.3" y2="605.2" stroke="#f1f1f3" stroke-width="0.7" />
<line x1="181.1" y1="575.9" x2="181.1" y2="605.2" stroke="#f1f1f3" stroke-width="0.7" />
<line x1="108.3" y1="576.5" x2="108.3" y2="604.6" stroke="#8a8a8a" stroke-width="0.8" stroke-dasharray="1.8 2.3"/>
<rect x="198.5" y="575.9" width="98.7" height="29.3" fill="#fff"/>
<line x1="219.8" y1="575.9" x2="219.8" y2="605.2" stroke="#f1f1f3" stroke-width="0.7" />
<line x1="240.7" y1="575.9" x2="240.7" y2="605.2" stroke="#f1f1f3" stroke-width="0.7" />
<line x1="261.5" y1="575.9" x2="261.5" y2="605.2" stroke="#f1f1f3" stroke-width="0.7" />
<line x1="282.3" y1="575.9" x2="282.3" y2="605.2" stroke="#f1f1f3" stroke-width="0.7" />
<line x1="209.5" y1="576.5" x2="209.5" y2="604.6" stroke="#8a8a8a" stroke-width="0.8" stroke-dasharray="1.8 2.3"/>
<rect x="299.7" y="575.9" width="98.7" height="29.3" fill="#fff"/>
<line x1="321" y1="575.9" x2="321" y2="605.2" stroke="#f1f1f3" stroke-width="0.7" />
<line x1="341.9" y1="575.9" x2="341.9" y2="605.2" stroke="#f1f1f3" stroke-width="0.7" />
<line x1="362.7" y1="575.9" x2="362.7" y2="605.2" stroke="#f1f1f3" stroke-width="0.7" />
<line x1="383.5" y1="575.9" x2="383.5" y2="605.2" stroke="#f1f1f3" stroke-width="0.7" />
<line x1="310.7" y1="576.5" x2="310.7" y2="604.6" stroke="#8a8a8a" stroke-width="0.8" stroke-dasharray="1.8 2.3"/>
<rect x="400.9" y="575.9" width="98.7" height="29.3" fill="#fff"/>
<line x1="422.2" y1="575.9" x2="422.2" y2="605.2" stroke="#f1f1f3" stroke-width="0.7" />
<line x1="443.1" y1="575.9" x2="443.1" y2="605.2" stroke="#f1f1f3" stroke-width="0.7" />
<line x1="463.9" y1="575.9" x2="463.9" y2="605.2" stroke="#f1f1f3" stroke-width="0.7" />
<line x1="484.7" y1="575.9" x2="484.7" y2="605.2" stroke="#f1f1f3" stroke-width="0.7" />
<line x1="411.9" y1="576.5" x2="411.9" y2="604.6" stroke="#8a8a8a" stroke-width="0.8" stroke-dasharray="1.8 2.3"/>
<circle cx="183.6" cy="583.8" r="2.0" fill="#3a404e" />
<circle cx="183.8" cy="597.3" r="2.0" fill="#3a404e" />
<path d="M278.4 580.05L282.15 583.8L278.4 587.55L274.65 583.8Z" fill="none" stroke="#506888" stroke-width="0.95"/>
<path d="M271.7 593.55L275.45 597.3L271.7 601.05L267.95 597.3Z" fill="none" stroke="#506888" stroke-width="0.95"/>
<circle cx="280" cy="583.8" r="2.1" fill="#c0102c" />
<circle cx="269.8" cy="597.3" r="2.1" fill="#c0102c" />
<path d="M352.5 580.05L356.25 583.8L352.5 587.55L348.75 583.8Z" fill="none" stroke="#506888" stroke-width="0.95"/>
<path d="M352.5 593.55L356.25 597.3L352.5 601.05L348.75 597.3Z" fill="none" stroke="#506888" stroke-width="0.95"/>
<circle cx="356.3" cy="583.8" r="2.1" fill="#c0102c" />
<circle cx="352.5" cy="597.3" r="2.1" fill="#c0102c" />
<path d="M405.4 580.05L409.15 583.8L405.4 587.55L401.65 583.8Z" fill="none" stroke="#506888" stroke-width="0.95"/>
<path d="M439.4 593.55L443.15 597.3L439.4 601.05L435.65 597.3Z" fill="none" stroke="#506888" stroke-width="0.95"/>
<circle cx="443.8" cy="583.8" r="2.1" fill="#c0102c" />
<circle cx="441.9" cy="597.3" r="2.1" fill="#c0102c" />
<rect x="97.3" y="575.9" width="98.7" height="29.3" fill="none" stroke="#1a1a1a" stroke-width="1.3"/>
<rect x="198.5" y="575.9" width="98.7" height="29.3" fill="none" stroke="#1a1a1a" stroke-width="1.3"/>
<rect x="299.7" y="575.9" width="98.7" height="29.3" fill="none" stroke="#1a1a1a" stroke-width="1.3"/>
<rect x="400.9" y="575.9" width="98.7" height="29.3" fill="none" stroke="#1a1a1a" stroke-width="1.3"/>
<line x1="94" y1="583.8" x2="97.3" y2="583.8" stroke="#1a1a1a" stroke-width="1.1" />
<text x="90.2" y="586.6" font-size="7.85" text-anchor="end" fill="#2b2b2b" font-weight="normal" stroke="#2b2b2b" stroke-width="0.1" >TP53 K132E</text>
<line x1="94" y1="597.3" x2="97.3" y2="597.3" stroke="#1a1a1a" stroke-width="1.1" />
<text x="90.2" y="600.1" font-size="7.85" text-anchor="end" fill="#2b2b2b" font-weight="normal" stroke="#2b2b2b" stroke-width="0.1" >TP53 C135S</text>
<rect x="498.5" y="575.4" width="13.6" height="30.3" fill="#c7c6cc"/>
<text x="0" y="0" font-size="7.9" text-anchor="middle" fill="#2b2b2b" transform="translate(502.7 590.55) rotate(90)">114</text>
<rect x="97.3" y="607.9" width="98.7" height="15.8" fill="#fff"/>
<line x1="118.6" y1="607.9" x2="118.6" y2="623.7" stroke="#f1f1f3" stroke-width="0.7" />
<line x1="139.5" y1="607.9" x2="139.5" y2="623.7" stroke="#f1f1f3" stroke-width="0.7" />
<line x1="160.3" y1="607.9" x2="160.3" y2="623.7" stroke="#f1f1f3" stroke-width="0.7" />
<line x1="181.1" y1="607.9" x2="181.1" y2="623.7" stroke="#f1f1f3" stroke-width="0.7" />
<line x1="108.3" y1="608.5" x2="108.3" y2="623.1" stroke="#8a8a8a" stroke-width="0.8" stroke-dasharray="1.8 2.3"/>
<rect x="198.5" y="607.9" width="98.7" height="15.8" fill="#fff"/>
<line x1="219.8" y1="607.9" x2="219.8" y2="623.7" stroke="#f1f1f3" stroke-width="0.7" />
<line x1="240.7" y1="607.9" x2="240.7" y2="623.7" stroke="#f1f1f3" stroke-width="0.7" />
<line x1="261.5" y1="607.9" x2="261.5" y2="623.7" stroke="#f1f1f3" stroke-width="0.7" />
<line x1="282.3" y1="607.9" x2="282.3" y2="623.7" stroke="#f1f1f3" stroke-width="0.7" />
<line x1="209.5" y1="608.5" x2="209.5" y2="623.1" stroke="#8a8a8a" stroke-width="0.8" stroke-dasharray="1.8 2.3"/>
<rect x="299.7" y="607.9" width="98.7" height="15.8" fill="#fff"/>
<line x1="321" y1="607.9" x2="321" y2="623.7" stroke="#f1f1f3" stroke-width="0.7" />
<line x1="341.9" y1="607.9" x2="341.9" y2="623.7" stroke="#f1f1f3" stroke-width="0.7" />
<line x1="362.7" y1="607.9" x2="362.7" y2="623.7" stroke="#f1f1f3" stroke-width="0.7" />
<line x1="383.5" y1="607.9" x2="383.5" y2="623.7" stroke="#f1f1f3" stroke-width="0.7" />
<line x1="310.7" y1="608.5" x2="310.7" y2="623.1" stroke="#8a8a8a" stroke-width="0.8" stroke-dasharray="1.8 2.3"/>
<rect x="400.9" y="607.9" width="98.7" height="15.8" fill="#fff"/>
<line x1="422.2" y1="607.9" x2="422.2" y2="623.7" stroke="#f1f1f3" stroke-width="0.7" />
<line x1="443.1" y1="607.9" x2="443.1" y2="623.7" stroke="#f1f1f3" stroke-width="0.7" />
<line x1="463.9" y1="607.9" x2="463.9" y2="623.7" stroke="#f1f1f3" stroke-width="0.7" />
<line x1="484.7" y1="607.9" x2="484.7" y2="623.7" stroke="#f1f1f3" stroke-width="0.7" />
<line x1="411.9" y1="608.5" x2="411.9" y2="623.1" stroke="#8a8a8a" stroke-width="0.8" stroke-dasharray="1.8 2.3"/>
<circle cx="147.5" cy="615.8" r="2.0" fill="#3a404e" />
<path d="M283.6 612.05L287.35 615.8L283.6 619.55L279.85 615.8Z" fill="none" stroke="#506888" stroke-width="0.95"/>
<circle cx="285.6" cy="615.8" r="2.1" fill="#c0102c" />
<path d="M344.6 612.05L348.35 615.8L344.6 619.55L340.85 615.8Z" fill="none" stroke="#506888" stroke-width="0.95"/>
<circle cx="332.7" cy="615.8" r="2.1" fill="#c0102c" />
<path d="M430.4 612.05L434.15 615.8L430.4 619.55L426.65 615.8Z" fill="none" stroke="#506888" stroke-width="0.95"/>
<circle cx="451.9" cy="615.8" r="2.1" fill="#c0102c" />
<rect x="97.3" y="607.9" width="98.7" height="15.8" fill="none" stroke="#1a1a1a" stroke-width="1.3"/>
<rect x="198.5" y="607.9" width="98.7" height="15.8" fill="none" stroke="#1a1a1a" stroke-width="1.3"/>
<rect x="299.7" y="607.9" width="98.7" height="15.8" fill="none" stroke="#1a1a1a" stroke-width="1.3"/>
<rect x="400.9" y="607.9" width="98.7" height="15.8" fill="none" stroke="#1a1a1a" stroke-width="1.3"/>
<line x1="94" y1="615.8" x2="97.3" y2="615.8" stroke="#1a1a1a" stroke-width="1.1" />
<text x="90.2" y="618.6" font-size="7.85" text-anchor="end" fill="#2b2b2b" font-weight="normal" stroke="#2b2b2b" stroke-width="0.1" >IDH2 R172K</text>
<rect x="498.5" y="607.4" width="13.6" height="16.8" fill="#c7c6cc"/>
<text x="0" y="0" font-size="7.9" text-anchor="middle" fill="#2b2b2b" transform="translate(502.7 615.8) rotate(90)">116</text>
<rect x="97.3" y="627.5" width="98.7" height="42.7" fill="#fff"/>
<line x1="118.6" y1="627.5" x2="118.6" y2="670.2" stroke="#f1f1f3" stroke-width="0.7" />
<line x1="139.5" y1="627.5" x2="139.5" y2="670.2" stroke="#f1f1f3" stroke-width="0.7" />
<line x1="160.3" y1="627.5" x2="160.3" y2="670.2" stroke="#f1f1f3" stroke-width="0.7" />
<line x1="181.1" y1="627.5" x2="181.1" y2="670.2" stroke="#f1f1f3" stroke-width="0.7" />
<line x1="108.3" y1="628.1" x2="108.3" y2="669.6" stroke="#8a8a8a" stroke-width="0.8" stroke-dasharray="1.8 2.3"/>
<rect x="198.5" y="627.5" width="98.7" height="42.7" fill="#fff"/>
<line x1="219.8" y1="627.5" x2="219.8" y2="670.2" stroke="#f1f1f3" stroke-width="0.7" />
<line x1="240.7" y1="627.5" x2="240.7" y2="670.2" stroke="#f1f1f3" stroke-width="0.7" />
<line x1="261.5" y1="627.5" x2="261.5" y2="670.2" stroke="#f1f1f3" stroke-width="0.7" />
<line x1="282.3" y1="627.5" x2="282.3" y2="670.2" stroke="#f1f1f3" stroke-width="0.7" />
<line x1="209.5" y1="628.1" x2="209.5" y2="669.6" stroke="#8a8a8a" stroke-width="0.8" stroke-dasharray="1.8 2.3"/>
<rect x="299.7" y="627.5" width="98.7" height="42.7" fill="#fff"/>
<line x1="321" y1="627.5" x2="321" y2="670.2" stroke="#f1f1f3" stroke-width="0.7" />
<line x1="341.9" y1="627.5" x2="341.9" y2="670.2" stroke="#f1f1f3" stroke-width="0.7" />
<line x1="362.7" y1="627.5" x2="362.7" y2="670.2" stroke="#f1f1f3" stroke-width="0.7" />
<line x1="383.5" y1="627.5" x2="383.5" y2="670.2" stroke="#f1f1f3" stroke-width="0.7" />
<line x1="310.7" y1="628.1" x2="310.7" y2="669.6" stroke="#8a8a8a" stroke-width="0.8" stroke-dasharray="1.8 2.3"/>
<rect x="400.9" y="627.5" width="98.7" height="42.7" fill="#fff"/>
<line x1="422.2" y1="627.5" x2="422.2" y2="670.2" stroke="#f1f1f3" stroke-width="0.7" />
<line x1="443.1" y1="627.5" x2="443.1" y2="670.2" stroke="#f1f1f3" stroke-width="0.7" />
<line x1="463.9" y1="627.5" x2="463.9" y2="670.2" stroke="#f1f1f3" stroke-width="0.7" />
<line x1="484.7" y1="627.5" x2="484.7" y2="670.2" stroke="#f1f1f3" stroke-width="0.7" />
<line x1="411.9" y1="628.1" x2="411.9" y2="669.6" stroke="#8a8a8a" stroke-width="0.8" stroke-dasharray="1.8 2.3"/>
<circle cx="184.9" cy="635.4" r="2.0" fill="#3a404e" />
<circle cx="184.1" cy="648.8" r="2.0" fill="#3a404e" />
<circle cx="184.1" cy="662.3" r="2.0" fill="#3a404e" />
<path d="M278.1 631.65L281.85 635.4L278.1 639.15L274.35 635.4Z" fill="none" stroke="#506888" stroke-width="0.95"/>
<path d="M277.5 645.05L281.25 648.8L277.5 652.55L273.75 648.8Z" fill="none" stroke="#506888" stroke-width="0.95"/>
<path d="M277.5 658.55L281.25 662.3L277.5 666.05L273.75 662.3Z" fill="none" stroke="#506888" stroke-width="0.95"/>
<circle cx="285.8" cy="635.4" r="2.1" fill="#c0102c" />
<circle cx="285.8" cy="648.8" r="2.1" fill="#c0102c" />
<circle cx="285.8" cy="662.3" r="2.1" fill="#c0102c" />
<path d="M345.5 631.65L349.25 635.4L345.5 639.15L341.75 635.4Z" fill="none" stroke="#506888" stroke-width="0.95"/>
<path d="M347.5 645.05L351.25 648.8L347.5 652.55L343.75 648.8Z" fill="none" stroke="#506888" stroke-width="0.95"/>
<path d="M348 658.55L351.75 662.3L348 666.05L344.25 662.3Z" fill="none" stroke="#506888" stroke-width="0.95"/>
<path d="M405.4 631.65L409.15 635.4L405.4 639.15L401.65 635.4Z" fill="none" stroke="#506888" stroke-width="0.95"/>
<path d="M405.4 645.05L409.15 648.8L405.4 652.55L401.65 648.8Z" fill="none" stroke="#506888" stroke-width="0.95"/>
<path d="M434.6 658.55L438.35 662.3L434.6 666.05L430.85 662.3Z" fill="none" stroke="#506888" stroke-width="0.95"/>
<rect x="97.3" y="627.5" width="98.7" height="42.7" fill="none" stroke="#1a1a1a" stroke-width="1.3"/>
<rect x="198.5" y="627.5" width="98.7" height="42.7" fill="none" stroke="#1a1a1a" stroke-width="1.3"/>
<rect x="299.7" y="627.5" width="98.7" height="42.7" fill="none" stroke="#1a1a1a" stroke-width="1.3"/>
<rect x="400.9" y="627.5" width="98.7" height="42.7" fill="none" stroke="#1a1a1a" stroke-width="1.3"/>
<line x1="94" y1="635.4" x2="97.3" y2="635.4" stroke="#1a1a1a" stroke-width="1.1" />
<text x="90.2" y="638.2" font-size="7.85" text-anchor="end" fill="#2b2b2b" font-weight="normal" stroke="#2b2b2b" stroke-width="0.1" >SRSF2 P95L</text>
<line x1="94" y1="648.8" x2="97.3" y2="648.8" stroke="#1a1a1a" stroke-width="1.1" />
<text x="90.2" y="651.6" font-size="7.85" text-anchor="end" fill="#2b2b2b" font-weight="normal" stroke="#2b2b2b" stroke-width="0.1" >IDH2 R140Q</text>
<line x1="94" y1="662.3" x2="97.3" y2="662.3" stroke="#1a1a1a" stroke-width="1.1" />
<text x="90.2" y="665.1" font-size="7.85" text-anchor="end" fill="#2b2b2b" font-weight="normal" stroke="#2b2b2b" stroke-width="0.1" >DNMT3A R882P</text>
<rect x="498.5" y="627" width="13.6" height="43.7" fill="#c7c6cc"/>
<text x="0" y="0" font-size="7.9" text-anchor="middle" fill="#2b2b2b" transform="translate(502.7 648.85) rotate(90)">117</text>
<rect x="97.3" y="673.6" width="98.7" height="69.7" fill="#fff"/>
<line x1="118.6" y1="673.6" x2="118.6" y2="743.3" stroke="#f1f1f3" stroke-width="0.7" />
<line x1="139.5" y1="673.6" x2="139.5" y2="743.3" stroke="#f1f1f3" stroke-width="0.7" />
<line x1="160.3" y1="673.6" x2="160.3" y2="743.3" stroke="#f1f1f3" stroke-width="0.7" />
<line x1="181.1" y1="673.6" x2="181.1" y2="743.3" stroke="#f1f1f3" stroke-width="0.7" />
<line x1="108.3" y1="674.2" x2="108.3" y2="742.7" stroke="#8a8a8a" stroke-width="0.8" stroke-dasharray="1.8 2.3"/>
<rect x="198.5" y="673.6" width="98.7" height="69.7" fill="#fff"/>
<line x1="219.8" y1="673.6" x2="219.8" y2="743.3" stroke="#f1f1f3" stroke-width="0.7" />
<line x1="240.7" y1="673.6" x2="240.7" y2="743.3" stroke="#f1f1f3" stroke-width="0.7" />
<line x1="261.5" y1="673.6" x2="261.5" y2="743.3" stroke="#f1f1f3" stroke-width="0.7" />
<line x1="282.3" y1="673.6" x2="282.3" y2="743.3" stroke="#f1f1f3" stroke-width="0.7" />
<line x1="209.5" y1="674.2" x2="209.5" y2="742.7" stroke="#8a8a8a" stroke-width="0.8" stroke-dasharray="1.8 2.3"/>
<rect x="299.7" y="673.6" width="98.7" height="69.7" fill="#fff"/>
<line x1="321" y1="673.6" x2="321" y2="743.3" stroke="#f1f1f3" stroke-width="0.7" />
<line x1="341.9" y1="673.6" x2="341.9" y2="743.3" stroke="#f1f1f3" stroke-width="0.7" />
<line x1="362.7" y1="673.6" x2="362.7" y2="743.3" stroke="#f1f1f3" stroke-width="0.7" />
<line x1="383.5" y1="673.6" x2="383.5" y2="743.3" stroke="#f1f1f3" stroke-width="0.7" />
<line x1="310.7" y1="674.2" x2="310.7" y2="742.7" stroke="#8a8a8a" stroke-width="0.8" stroke-dasharray="1.8 2.3"/>
<rect x="400.9" y="673.6" width="98.7" height="69.7" fill="#fff"/>
<line x1="422.2" y1="673.6" x2="422.2" y2="743.3" stroke="#f1f1f3" stroke-width="0.7" />
<line x1="443.1" y1="673.6" x2="443.1" y2="743.3" stroke="#f1f1f3" stroke-width="0.7" />
<line x1="463.9" y1="673.6" x2="463.9" y2="743.3" stroke="#f1f1f3" stroke-width="0.7" />
<line x1="484.7" y1="673.6" x2="484.7" y2="743.3" stroke="#f1f1f3" stroke-width="0.7" />
<line x1="411.9" y1="674.2" x2="411.9" y2="742.7" stroke="#8a8a8a" stroke-width="0.8" stroke-dasharray="1.8 2.3"/>
<circle cx="180.5" cy="681.5" r="2.0" fill="#3a404e" />
<circle cx="181.2" cy="695" r="2.0" fill="#3a404e" />
<circle cx="184.4" cy="708.5" r="2.0" fill="#3a404e" />
<circle cx="182.9" cy="722" r="2.0" fill="#3a404e" />
<circle cx="179.9" cy="735.4" r="2.0" fill="#3a404e" />
<path d="M281.5 677.75L285.25 681.5L281.5 685.25L277.75 681.5Z" fill="none" stroke="#506888" stroke-width="0.95"/>
<path d="M284.1 691.25L287.85 695L284.1 698.75L280.35 695Z" fill="none" stroke="#506888" stroke-width="0.95"/>
<path d="M285.1 704.75L288.85 708.5L285.1 712.25L281.35 708.5Z" fill="none" stroke="#506888" stroke-width="0.95"/>
<path d="M283.7 718.25L287.45 722L283.7 725.75L279.95 722Z" fill="none" stroke="#506888" stroke-width="0.95"/>
<path d="M281.1 731.65L284.85 735.4L281.1 739.15L277.35 735.4Z" fill="none" stroke="#506888" stroke-width="0.95"/>
<circle cx="281.5" cy="681.5" r="2.1" fill="#c0102c" />
<circle cx="284.8" cy="695" r="2.1" fill="#c0102c" />
<circle cx="285.8" cy="708.5" r="2.1" fill="#c0102c" />
<circle cx="284.4" cy="722" r="2.1" fill="#c0102c" />
<circle cx="281.1" cy="735.4" r="2.1" fill="#c0102c" />
<path d="M334.6 677.75L338.35 681.5L334.6 685.25L330.85 681.5Z" fill="none" stroke="#506888" stroke-width="0.95"/>
<path d="M336.5 691.25L340.25 695L336.5 698.75L332.75 695Z" fill="none" stroke="#506888" stroke-width="0.95"/>
<path d="M304.2 704.75L307.95 708.5L304.2 712.25L300.45 708.5Z" fill="none" stroke="#506888" stroke-width="0.95"/>
<path d="M327.8 718.25L331.55 722L327.8 725.75L324.05 722Z" fill="none" stroke="#506888" stroke-width="0.95"/>
<path d="M304.2 731.65L307.95 735.4L304.2 739.15L300.45 735.4Z" fill="none" stroke="#506888" stroke-width="0.95"/>
<path d="M424 677.75L427.75 681.5L424 685.25L420.25 681.5Z" fill="none" stroke="#506888" stroke-width="0.95"/>
<path d="M405.4 691.25L409.15 695L405.4 698.75L401.65 695Z" fill="none" stroke="#506888" stroke-width="0.95"/>
<path d="M405.4 704.75L409.15 708.5L405.4 712.25L401.65 708.5Z" fill="none" stroke="#506888" stroke-width="0.95"/>
<path d="M424 718.25L427.75 722L424 725.75L420.25 722Z" fill="none" stroke="#506888" stroke-width="0.95"/>
<path d="M405.4 731.65L409.15 735.4L405.4 739.15L401.65 735.4Z" fill="none" stroke="#506888" stroke-width="0.95"/>
<circle cx="437.1" cy="681.5" r="2.1" fill="#c0102c" />
<circle cx="439.4" cy="695" r="2.1" fill="#c0102c" />
<circle cx="448.7" cy="708.5" r="2.1" fill="#c0102c" />
<circle cx="437.5" cy="722" r="2.1" fill="#c0102c" />
<circle cx="405.4" cy="735.4" r="2.1" fill="#c0102c" />
<rect x="97.3" y="673.6" width="98.7" height="69.7" fill="none" stroke="#1a1a1a" stroke-width="1.3"/>
<rect x="198.5" y="673.6" width="98.7" height="69.7" fill="none" stroke="#1a1a1a" stroke-width="1.3"/>
<rect x="299.7" y="673.6" width="98.7" height="69.7" fill="none" stroke="#1a1a1a" stroke-width="1.3"/>
<rect x="400.9" y="673.6" width="98.7" height="69.7" fill="none" stroke="#1a1a1a" stroke-width="1.3"/>
<line x1="94" y1="681.5" x2="97.3" y2="681.5" stroke="#1a1a1a" stroke-width="1.1" />
<text x="90.2" y="684.3" font-size="7.85" text-anchor="end" fill="#2b2b2b" font-weight="normal" stroke="#2b2b2b" stroke-width="0.1" >RUNX1 R169Kfs*8</text>
<line x1="94" y1="695" x2="97.3" y2="695" stroke="#1a1a1a" stroke-width="1.1" />
<text x="90.2" y="697.8" font-size="7.85" text-anchor="end" fill="#2b2b2b" font-weight="normal" stroke="#2b2b2b" stroke-width="0.1" >NRAS G12D</text>
<line x1="94" y1="708.5" x2="97.3" y2="708.5" stroke="#1a1a1a" stroke-width="1.1" />
<text x="90.2" y="711.3" font-size="7.85" text-anchor="end" fill="#2b2b2b" font-weight="normal" stroke="#2b2b2b" stroke-width="0.1" >EZH2 R288X</text>
<line x1="94" y1="722" x2="97.3" y2="722" stroke="#1a1a1a" stroke-width="1.1" />
<text x="90.2" y="724.8" font-size="7.85" text-anchor="end" fill="#2b2b2b" font-weight="normal" stroke="#2b2b2b" stroke-width="0.1" >EZH2 M706del</text>
<line x1="94" y1="735.4" x2="97.3" y2="735.4" stroke="#1a1a1a" stroke-width="1.1" />
<text x="90.2" y="738.2" font-size="7.85" text-anchor="end" fill="#2b2b2b" font-weight="normal" stroke="#2b2b2b" stroke-width="0.1" >ASXL1 G646Wfs*12</text>
<rect x="498.5" y="673.1" width="13.6" height="70.7" fill="#c7c6cc"/>
<text x="0" y="0" font-size="7.9" text-anchor="middle" fill="#2b2b2b" transform="translate(502.7 708.45) rotate(90)">118</text>
<rect x="97.3" y="746.6" width="98.7" height="42.8" fill="#fff"/>
<line x1="118.6" y1="746.6" x2="118.6" y2="789.4" stroke="#f1f1f3" stroke-width="0.7" />
<line x1="139.5" y1="746.6" x2="139.5" y2="789.4" stroke="#f1f1f3" stroke-width="0.7" />
<line x1="160.3" y1="746.6" x2="160.3" y2="789.4" stroke="#f1f1f3" stroke-width="0.7" />
<line x1="181.1" y1="746.6" x2="181.1" y2="789.4" stroke="#f1f1f3" stroke-width="0.7" />
<line x1="108.3" y1="747.2" x2="108.3" y2="788.8" stroke="#8a8a8a" stroke-width="0.8" stroke-dasharray="1.8 2.3"/>
<rect x="198.5" y="746.6" width="98.7" height="42.8" fill="#fff"/>
<line x1="219.8" y1="746.6" x2="219.8" y2="789.4" stroke="#f1f1f3" stroke-width="0.7" />
<line x1="240.7" y1="746.6" x2="240.7" y2="789.4" stroke="#f1f1f3" stroke-width="0.7" />
<line x1="261.5" y1="746.6" x2="261.5" y2="789.4" stroke="#f1f1f3" stroke-width="0.7" />
<line x1="282.3" y1="746.6" x2="282.3" y2="789.4" stroke="#f1f1f3" stroke-width="0.7" />
<line x1="209.5" y1="747.2" x2="209.5" y2="788.8" stroke="#8a8a8a" stroke-width="0.8" stroke-dasharray="1.8 2.3"/>
<rect x="299.7" y="746.6" width="98.7" height="42.8" fill="#fff"/>
<line x1="321" y1="746.6" x2="321" y2="789.4" stroke="#f1f1f3" stroke-width="0.7" />
<line x1="341.9" y1="746.6" x2="341.9" y2="789.4" stroke="#f1f1f3" stroke-width="0.7" />
<line x1="362.7" y1="746.6" x2="362.7" y2="789.4" stroke="#f1f1f3" stroke-width="0.7" />
<line x1="383.5" y1="746.6" x2="383.5" y2="789.4" stroke="#f1f1f3" stroke-width="0.7" />
<line x1="310.7" y1="747.2" x2="310.7" y2="788.8" stroke="#8a8a8a" stroke-width="0.8" stroke-dasharray="1.8 2.3"/>
<rect x="400.9" y="746.6" width="98.7" height="42.8" fill="#fff"/>
<line x1="422.2" y1="746.6" x2="422.2" y2="789.4" stroke="#f1f1f3" stroke-width="0.7" />
<line x1="443.1" y1="746.6" x2="443.1" y2="789.4" stroke="#f1f1f3" stroke-width="0.7" />
<line x1="463.9" y1="746.6" x2="463.9" y2="789.4" stroke="#f1f1f3" stroke-width="0.7" />
<line x1="484.7" y1="746.6" x2="484.7" y2="789.4" stroke="#f1f1f3" stroke-width="0.7" />
<line x1="411.9" y1="747.2" x2="411.9" y2="788.8" stroke="#8a8a8a" stroke-width="0.8" stroke-dasharray="1.8 2.3"/>
<circle cx="181.4" cy="754.5" r="2.0" fill="#3a404e" />
<circle cx="187.1" cy="768.1" r="2.0" fill="#3a404e" />
<circle cx="177.8" cy="781.5" r="2.0" fill="#3a404e" />
<path d="M286.8 750.75L290.55 754.5L286.8 758.25L283.05 754.5Z" fill="none" stroke="#506888" stroke-width="0.95"/>
<path d="M286.3 764.35L290.05 768.1L286.3 771.85L282.55 768.1Z" fill="none" stroke="#506888" stroke-width="0.95"/>
<path d="M263 777.75L266.75 781.5L263 785.25L259.25 781.5Z" fill="none" stroke="#506888" stroke-width="0.95"/>
<circle cx="284.3" cy="754.5" r="2.1" fill="#c0102c" />
<circle cx="289.2" cy="768.1" r="2.1" fill="#c0102c" />
<circle cx="277.6" cy="781.5" r="2.1" fill="#c0102c" />
<path d="M304.1 750.75L307.85 754.5L304.1 758.25L300.35 754.5Z" fill="none" stroke="#506888" stroke-width="0.95"/>
<path d="M304.1 764.35L307.85 768.1L304.1 771.85L300.35 768.1Z" fill="none" stroke="#506888" stroke-width="0.95"/>
<path d="M304.1 777.75L307.85 781.5L304.1 785.25L300.35 781.5Z" fill="none" stroke="#506888" stroke-width="0.95"/>
<circle cx="304.1" cy="754.5" r="2.1" fill="#c0102c" />
<circle cx="304.1" cy="768.1" r="2.1" fill="#c0102c" />
<circle cx="304.1" cy="781.5" r="2.1" fill="#c0102c" />
<path d="M405.6 750.75L409.35 754.5L405.6 758.25L401.85 754.5Z" fill="none" stroke="#506888" stroke-width="0.95"/>
<path d="M405.6 764.35L409.35 768.1L405.6 771.85L401.85 768.1Z" fill="none" stroke="#506888" stroke-width="0.95"/>
<path d="M405.6 777.75L409.35 781.5L405.6 785.25L401.85 781.5Z" fill="none" stroke="#506888" stroke-width="0.95"/>
<circle cx="405.6" cy="754.5" r="2.1" fill="#c0102c" />
<circle cx="405.6" cy="768.1" r="2.1" fill="#c0102c" />
<circle cx="405.6" cy="781.5" r="2.1" fill="#c0102c" />
<rect x="97.3" y="746.6" width="98.7" height="42.8" fill="none" stroke="#1a1a1a" stroke-width="1.3"/>
<rect x="198.5" y="746.6" width="98.7" height="42.8" fill="none" stroke="#1a1a1a" stroke-width="1.3"/>
<rect x="299.7" y="746.6" width="98.7" height="42.8" fill="none" stroke="#1a1a1a" stroke-width="1.3"/>
<rect x="400.9" y="746.6" width="98.7" height="42.8" fill="none" stroke="#1a1a1a" stroke-width="1.3"/>
<line x1="94" y1="754.5" x2="97.3" y2="754.5" stroke="#1a1a1a" stroke-width="1.1" />
<text x="90.2" y="757.3" font-size="7.85" text-anchor="end" fill="#2b2b2b" font-weight="normal" stroke="#2b2b2b" stroke-width="0.1" >IDH2 R140Q</text>
<line x1="94" y1="768.1" x2="97.3" y2="768.1" stroke="#1a1a1a" stroke-width="1.1" />
<text x="90.2" y="770.9" font-size="7.85" text-anchor="end" fill="#2b2b2b" font-weight="normal" stroke="#2b2b2b" stroke-width="0.1" >DNMT3A R736H</text>
<line x1="94" y1="781.5" x2="97.3" y2="781.5" stroke="#1a1a1a" stroke-width="1.1" />
<text x="90.2" y="784.3" font-size="7.85" text-anchor="end" fill="#2b2b2b" font-weight="normal" stroke="#2b2b2b" stroke-width="0.1" >ASXL1 G646Wfs*12</text>
<rect x="498.5" y="746.1" width="13.6" height="43.8" fill="#c7c6cc"/>
<text x="0" y="0" font-size="7.9" text-anchor="middle" fill="#2b2b2b" transform="translate(502.7 768) rotate(90)">125</text>
<line x1="102.1" y1="789.6" x2="102.1" y2="792.6" stroke="#1a1a1a" stroke-width="1.0" />
<text x="100" y="799.3" font-size="7.35" text-anchor="end" fill="#2b2b2b" transform="rotate(-45 100 799.3)">Undetectable</text>
<line x1="108.2" y1="789.6" x2="108.2" y2="792.6" stroke="#1a1a1a" stroke-width="1.0" />
<text x="109.8" y="798.9" font-size="7.35" text-anchor="end" fill="#2b2b2b" transform="rotate(-45 109.8 798.9)">0.01%</text>
<line x1="129" y1="789.6" x2="129" y2="792.6" stroke="#1a1a1a" stroke-width="1.0" />
<text x="129.3" y="798.5" font-size="7.35" text-anchor="end" fill="#2b2b2b" transform="rotate(-45 129.3 798.5)">0.1%</text>
<line x1="149.8" y1="789.6" x2="149.8" y2="792.6" stroke="#1a1a1a" stroke-width="1.0" />
<text x="150.1" y="798.5" font-size="7.35" text-anchor="end" fill="#2b2b2b" transform="rotate(-45 150.1 798.5)">1%</text>
<line x1="170.7" y1="789.6" x2="170.7" y2="792.6" stroke="#1a1a1a" stroke-width="1.0" />
<text x="171" y="798.5" font-size="7.35" text-anchor="end" fill="#2b2b2b" transform="rotate(-45 171 798.5)">10%</text>
<line x1="191.1" y1="789.6" x2="191.1" y2="792.6" stroke="#1a1a1a" stroke-width="1.0" />
<text x="191.4" y="798.5" font-size="7.35" text-anchor="end" fill="#2b2b2b" transform="rotate(-45 191.4 798.5)">100%</text>
<line x1="203.3" y1="789.6" x2="203.3" y2="792.6" stroke="#1a1a1a" stroke-width="1.0" />
<text x="201.2" y="799.3" font-size="7.35" text-anchor="end" fill="#2b2b2b" transform="rotate(-45 201.2 799.3)">Undetectable</text>
<line x1="209.4" y1="789.6" x2="209.4" y2="792.6" stroke="#1a1a1a" stroke-width="1.0" />
<text x="211" y="798.9" font-size="7.35" text-anchor="end" fill="#2b2b2b" transform="rotate(-45 211 798.9)">0.01%</text>
<line x1="230.2" y1="789.6" x2="230.2" y2="792.6" stroke="#1a1a1a" stroke-width="1.0" />
<text x="230.5" y="798.5" font-size="7.35" text-anchor="end" fill="#2b2b2b" transform="rotate(-45 230.5 798.5)">0.1%</text>
<line x1="251" y1="789.6" x2="251" y2="792.6" stroke="#1a1a1a" stroke-width="1.0" />
<text x="251.3" y="798.5" font-size="7.35" text-anchor="end" fill="#2b2b2b" transform="rotate(-45 251.3 798.5)">1%</text>
<line x1="271.9" y1="789.6" x2="271.9" y2="792.6" stroke="#1a1a1a" stroke-width="1.0" />
<text x="272.2" y="798.5" font-size="7.35" text-anchor="end" fill="#2b2b2b" transform="rotate(-45 272.2 798.5)">10%</text>
<line x1="292.3" y1="789.6" x2="292.3" y2="792.6" stroke="#1a1a1a" stroke-width="1.0" />
<text x="292.6" y="798.5" font-size="7.35" text-anchor="end" fill="#2b2b2b" transform="rotate(-45 292.6 798.5)">100%</text>
<line x1="304.5" y1="789.6" x2="304.5" y2="792.6" stroke="#1a1a1a" stroke-width="1.0" />
<text x="302.4" y="799.3" font-size="7.35" text-anchor="end" fill="#2b2b2b" transform="rotate(-45 302.4 799.3)">Undetectable</text>
<line x1="310.6" y1="789.6" x2="310.6" y2="792.6" stroke="#1a1a1a" stroke-width="1.0" />
<text x="312.2" y="798.9" font-size="7.35" text-anchor="end" fill="#2b2b2b" transform="rotate(-45 312.2 798.9)">0.01%</text>
<line x1="331.4" y1="789.6" x2="331.4" y2="792.6" stroke="#1a1a1a" stroke-width="1.0" />
<text x="331.7" y="798.5" font-size="7.35" text-anchor="end" fill="#2b2b2b" transform="rotate(-45 331.7 798.5)">0.1%</text>
<line x1="352.2" y1="789.6" x2="352.2" y2="792.6" stroke="#1a1a1a" stroke-width="1.0" />
<text x="352.5" y="798.5" font-size="7.35" text-anchor="end" fill="#2b2b2b" transform="rotate(-45 352.5 798.5)">1%</text>
<line x1="373.1" y1="789.6" x2="373.1" y2="792.6" stroke="#1a1a1a" stroke-width="1.0" />
<text x="373.4" y="798.5" font-size="7.35" text-anchor="end" fill="#2b2b2b" transform="rotate(-45 373.4 798.5)">10%</text>
<line x1="393.5" y1="789.6" x2="393.5" y2="792.6" stroke="#1a1a1a" stroke-width="1.0" />
<text x="393.8" y="798.5" font-size="7.35" text-anchor="end" fill="#2b2b2b" transform="rotate(-45 393.8 798.5)">100%</text>
<line x1="405.7" y1="789.6" x2="405.7" y2="792.6" stroke="#1a1a1a" stroke-width="1.0" />
<text x="403.6" y="799.3" font-size="7.35" text-anchor="end" fill="#2b2b2b" transform="rotate(-45 403.6 799.3)">Undetectable</text>
<line x1="411.8" y1="789.6" x2="411.8" y2="792.6" stroke="#1a1a1a" stroke-width="1.0" />
<text x="413.4" y="798.9" font-size="7.35" text-anchor="end" fill="#2b2b2b" transform="rotate(-45 413.4 798.9)">0.01%</text>
<line x1="432.6" y1="789.6" x2="432.6" y2="792.6" stroke="#1a1a1a" stroke-width="1.0" />
<text x="432.9" y="798.5" font-size="7.35" text-anchor="end" fill="#2b2b2b" transform="rotate(-45 432.9 798.5)">0.1%</text>
<line x1="453.4" y1="789.6" x2="453.4" y2="792.6" stroke="#1a1a1a" stroke-width="1.0" />
<text x="453.7" y="798.5" font-size="7.35" text-anchor="end" fill="#2b2b2b" transform="rotate(-45 453.7 798.5)">1%</text>
<line x1="474.3" y1="789.6" x2="474.3" y2="792.6" stroke="#1a1a1a" stroke-width="1.0" />
<text x="474.6" y="798.5" font-size="7.35" text-anchor="end" fill="#2b2b2b" transform="rotate(-45 474.6 798.5)">10%</text>
<line x1="494.7" y1="789.6" x2="494.7" y2="792.6" stroke="#1a1a1a" stroke-width="1.0" />
<text x="495" y="798.5" font-size="7.35" text-anchor="end" fill="#2b2b2b" transform="rotate(-45 495 798.5)">100%</text>
<text x="0" y="0" font-size="10" font-weight="bold" text-anchor="middle" fill="#1a1a1a" transform="translate(298 844.2) scale(0.61 1)">Log10 VAF</text>
<rect x="0.5" y="0.5" width="519" height="854" fill="none" stroke="#3c3c3c" stroke-width="1"/>
</svg>
</body></html>
